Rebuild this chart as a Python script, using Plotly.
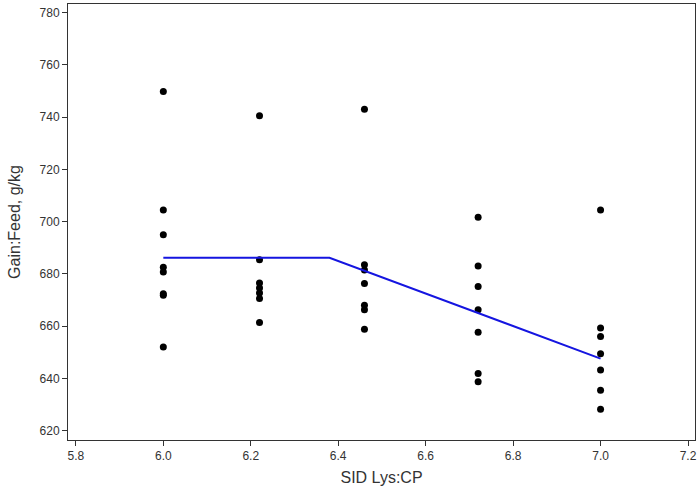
import plotly.graph_objects as go

x_levels = [6.0, 6.22, 6.46, 6.72, 7.0]
gf_600 = [749.8, 704.5, 695.0, 682.6, 680.7, 672.4, 671.8, 652.0]
gf_622 = [740.5, 685.4, 676.5, 674.6, 672.7, 670.6, 661.4]
gf_646 = [743.0, 683.5, 681.5, 676.3, 668.0, 666.3, 658.8]
gf_672 = [701.7, 683.0, 675.2, 666.3, 657.7, 641.9, 638.7]
gf_700 = [704.5, 659.3, 656.1, 649.5, 643.2, 635.5, 628.2]

fit_x = [6.0, 6.38, 7.0]
fit_y = [686.2, 686.2, 647.6]

groups = [gf_600, gf_622, gf_646, gf_672, gf_700]
px, py = [], []
for xv, g in zip(x_levels, groups):
    px += [xv] * len(g)
    py += g

x_ticks = [5.8, 6.0, 6.2, 6.4, 6.6, 6.8, 7.0, 7.2]
y_ticks = [620, 640, 660, 680, 700, 720, 740, 760, 780]

fig = go.Figure()
fig.add_trace(go.Scatter(x=px, y=py, mode="markers",
                         marker=dict(color="black", size=7), showlegend=False))
fig.add_trace(go.Scatter(x=fit_x, y=fit_y, mode="lines",
                         line=dict(color="#1515e0", width=2), showlegend=False))

font = "Liberation Sans, Arial, sans-serif"
fig.update_layout(
    width=700, height=495,
    margin=dict(l=68, r=3, t=3, b=55),
    plot_bgcolor="white", paper_bgcolor="white",
    font=dict(family=font, color="#333333", size=12),
)
fig.update_xaxes(range=[5.782, 7.216], tickvals=x_ticks,
                 ticktext=[f"{v:.1f}" for v in x_ticks],
                 showgrid=False, zeroline=False, showline=True, linecolor="#333333",
                 linewidth=1, mirror=True, ticks="outside", ticklen=5, tickcolor="#333333",
                 tickfont=dict(size=12, color="#333333"),
                 title=dict(text="SID Lys:CP", font=dict(size=16, color="#333333"), standoff=9))
fig.update_yaxes(range=[616.45, 783.3], tickvals=y_ticks,
                 showgrid=False, zeroline=False, showline=True, linecolor="#333333",
                 linewidth=1, mirror=True, ticks="outside", ticklen=5, tickcolor="#333333",
                 tickfont=dict(size=12, color="#333333"),
                 title=dict(text="Gain:Feed, g/kg", font=dict(size=16, color="#333333"), standoff=14))

fig.write_html("out.html")
